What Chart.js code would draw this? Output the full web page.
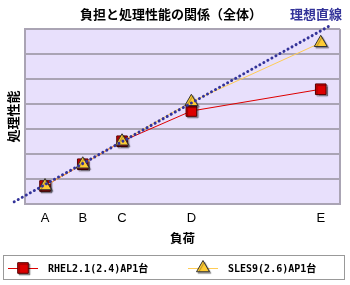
<!DOCTYPE html>
<html>
<head>
<meta charset="utf-8">
<script src="https://cdn.jsdelivr.net/npm/chart.js@4.4.1/dist/chart.umd.min.js"></script>
<style>
  body { margin: 0; background: #fff; }
  #wrap { width: 350px; height: 285px; position: relative; }
</style>
</head>
<body>
<div id="wrap"><canvas id="chart" width="350" height="285"></canvas></div>
<script>
// data
const categories = ["A", "B", "C", "D", "E"];
const loadX = [1, 1.98, 3, 4.8, 8.16];
const rhelValues = [0.72, 1.59, 2.51, 3.72, 4.59];
const slesValues = [0.72, 1.59, 2.51, 4.09, 6.45];
const idealX = [0.2, 8.43];
const idealY = [0.09, 7.16];

const jpFont = "'Noto Sans CJK JP', 'DejaVu Sans', sans-serif";
const monoFont = "'DejaVu Sans Mono', 'Noto Sans CJK JP', monospace";
const gridColor = "#aaa4b4";

const toPoints = (xs, ys) => xs.map((x, i) => ({ x: x, y: ys[i] }));

const setShadow = (ctx) => {
  ctx.shadowColor = "rgba(0,0,0,0.35)";
  ctx.shadowOffsetX = 1.5;
  ctx.shadowOffsetY = 1.5;
  ctx.shadowBlur = 1;
};

// plot background, right border, heading and legend box
const decoPlugin = {
  id: "deco",
  beforeDraw(chart) {
    const { ctx, chartArea: a } = chart;
    ctx.save();
    ctx.fillStyle = "#e8e0fc";
    ctx.fillRect(a.left, a.top, a.right - a.left, a.bottom - a.top);
    ctx.restore();
  },
  afterDraw(chart) {
    const { ctx, chartArea: a } = chart;
    ctx.save();
    ctx.strokeStyle = gridColor;
    ctx.lineWidth = 2;
    ctx.beginPath();
    ctx.moveTo(a.right, a.top);
    ctx.lineTo(a.right, a.bottom);
    ctx.stroke();

    // heading
    ctx.textBaseline = "middle";
    ctx.textAlign = "center";
    ctx.fillStyle = "#000";
    ctx.font = "bold 13px " + jpFont;
    ctx.fillText("負担と処理性能の関係（全体）", 171, 14);
    ctx.fillStyle = "#333399";
    ctx.textAlign = "left";
    ctx.fillText("理想直線", 290, 14);

    // legend
    ctx.fillStyle = "#fff";
    ctx.fillRect(3, 255, 342, 25);
    ctx.strokeStyle = "#999";
    ctx.lineWidth = 1;
    ctx.strokeRect(3.5, 255.5, 341, 24);
    const ly = 268;
    const items = [
      { ds: chart.data.datasets[0], x0: 8 },
      { ds: chart.data.datasets[1], x0: 188 }
    ];
    items.forEach(it => {
      ctx.strokeStyle = it.ds.borderColor;
      ctx.lineWidth = 1;
      ctx.beginPath();
      ctx.moveTo(it.x0, ly + 0.5);
      ctx.lineTo(it.x0 + 30, ly + 0.5);
      ctx.stroke();
      ctx.save();
      setShadow(ctx);
      ctx.fillStyle = it.ds.pointBackgroundColor;
      ctx.strokeStyle = it.ds.pointBorderColor;
      Chart.helpers.drawPoint(ctx, {
        pointStyle: it.ds.pointStyle,
        radius: it.ds.pointRadius,
        rotation: 0,
        borderWidth: 1
      }, it.x0 + 15, ly);
      ctx.restore();
      ctx.fillStyle = "#000";
      ctx.font = "bold 10px " + monoFont;
      ctx.fillText(it.ds.label, it.x0 + 40, ly + 1);
    });
    ctx.restore();
  }
};

// drop shadow under the markers only (not the lines)
const shadowPlugin = {
  id: "markerShadow",
  afterDatasetsUpdate(chart) {
    chart.data.datasets.forEach((ds, i) => {
      if (ds.pointRadius === 0) return;
      chart.getDatasetMeta(i).data.forEach(pt => {
        const draw = pt.draw.bind(pt);
        pt.draw = function (ctx, area) {
          ctx.save();
          setShadow(ctx);
          draw(ctx, area);
          ctx.restore();
        };
      });
    });
  }
};

new Chart(document.getElementById("chart"), {
  type: "line",
  data: {
    datasets: [
      {
        label: "RHEL2.1(2.4)AP1台",
        data: toPoints(loadX, rhelValues),
        borderColor: "#dd0000",
        borderWidth: 1,
        pointStyle: "rect",
        pointRadius: 7.5,
        pointBackgroundColor: "#dd0000",
        pointBorderColor: "#550000",
        pointBorderWidth: 1,
        order: 3
      },
      {
        label: "SLES9(2.6)AP1台",
        data: toPoints(loadX, slesValues),
        borderColor: "#ffcc55",
        borderWidth: 1,
        pointStyle: "triangle",
        pointRadius: 7.5,
        pointBackgroundColor: "#ffcc33",
        pointBorderColor: "#333333",
        pointBorderWidth: 1,
        order: 2
      },
      {
        label: "理想直線",
        data: toPoints(idealX, idealY),
        borderColor: "#333399",
        borderWidth: 3,
        borderDash: [0.01, 4.6],
        borderCapStyle: "round",
        pointRadius: 0,
        clip: false,
        order: 1
      }
    ]
  },
  options: {
    responsive: false,
    animation: false,
    layout: { padding: { top: 29, right: 10, bottom: 35, left: 0 } },
    plugins: {
      legend: { display: false },
      tooltip: { enabled: false }
    },
    scales: {
      x: {
        type: "linear",
        min: 0.48,
        max: 8.66,
        afterBuildTicks: (scale) => { scale.ticks = loadX.map(v => ({ value: v })); },
        afterFit: (scale) => { scale.height = 46; },
        grid: { display: false, drawTicks: false },
        border: { display: true, color: gridColor, width: 2 },
        ticks: {
          padding: 7,
          autoSkip: false,
          maxRotation: 0,
          color: "#000",
          font: { family: "'Liberation Sans', Arial, sans-serif", size: 13 },
          callback: (v) => categories[loadX.indexOf(v)]
        },
        title: {
          display: true,
          text: "負荷",
          color: "#000",
          font: { family: jpFont, size: 12.5, weight: "bold" },
          padding: { top: 0, bottom: 4 }
        }
      },
      y: {
        min: 0,
        max: 7,
        afterFit: (scale) => { scale.width = 25; },
        grid: { color: gridColor, lineWidth: 2, drawTicks: false },
        border: { display: true, color: gridColor, width: 2 },
        ticks: { stepSize: 1, display: false },
        title: {
          display: true,
          text: "処理性能",
          color: "#000",
          font: { family: jpFont, size: 13, weight: "bold" },
          padding: { top: 5, bottom: 0 }
        }
      }
    }
  },
  plugins: [decoPlugin, shadowPlugin]
});
</script>
</body>
</html>
